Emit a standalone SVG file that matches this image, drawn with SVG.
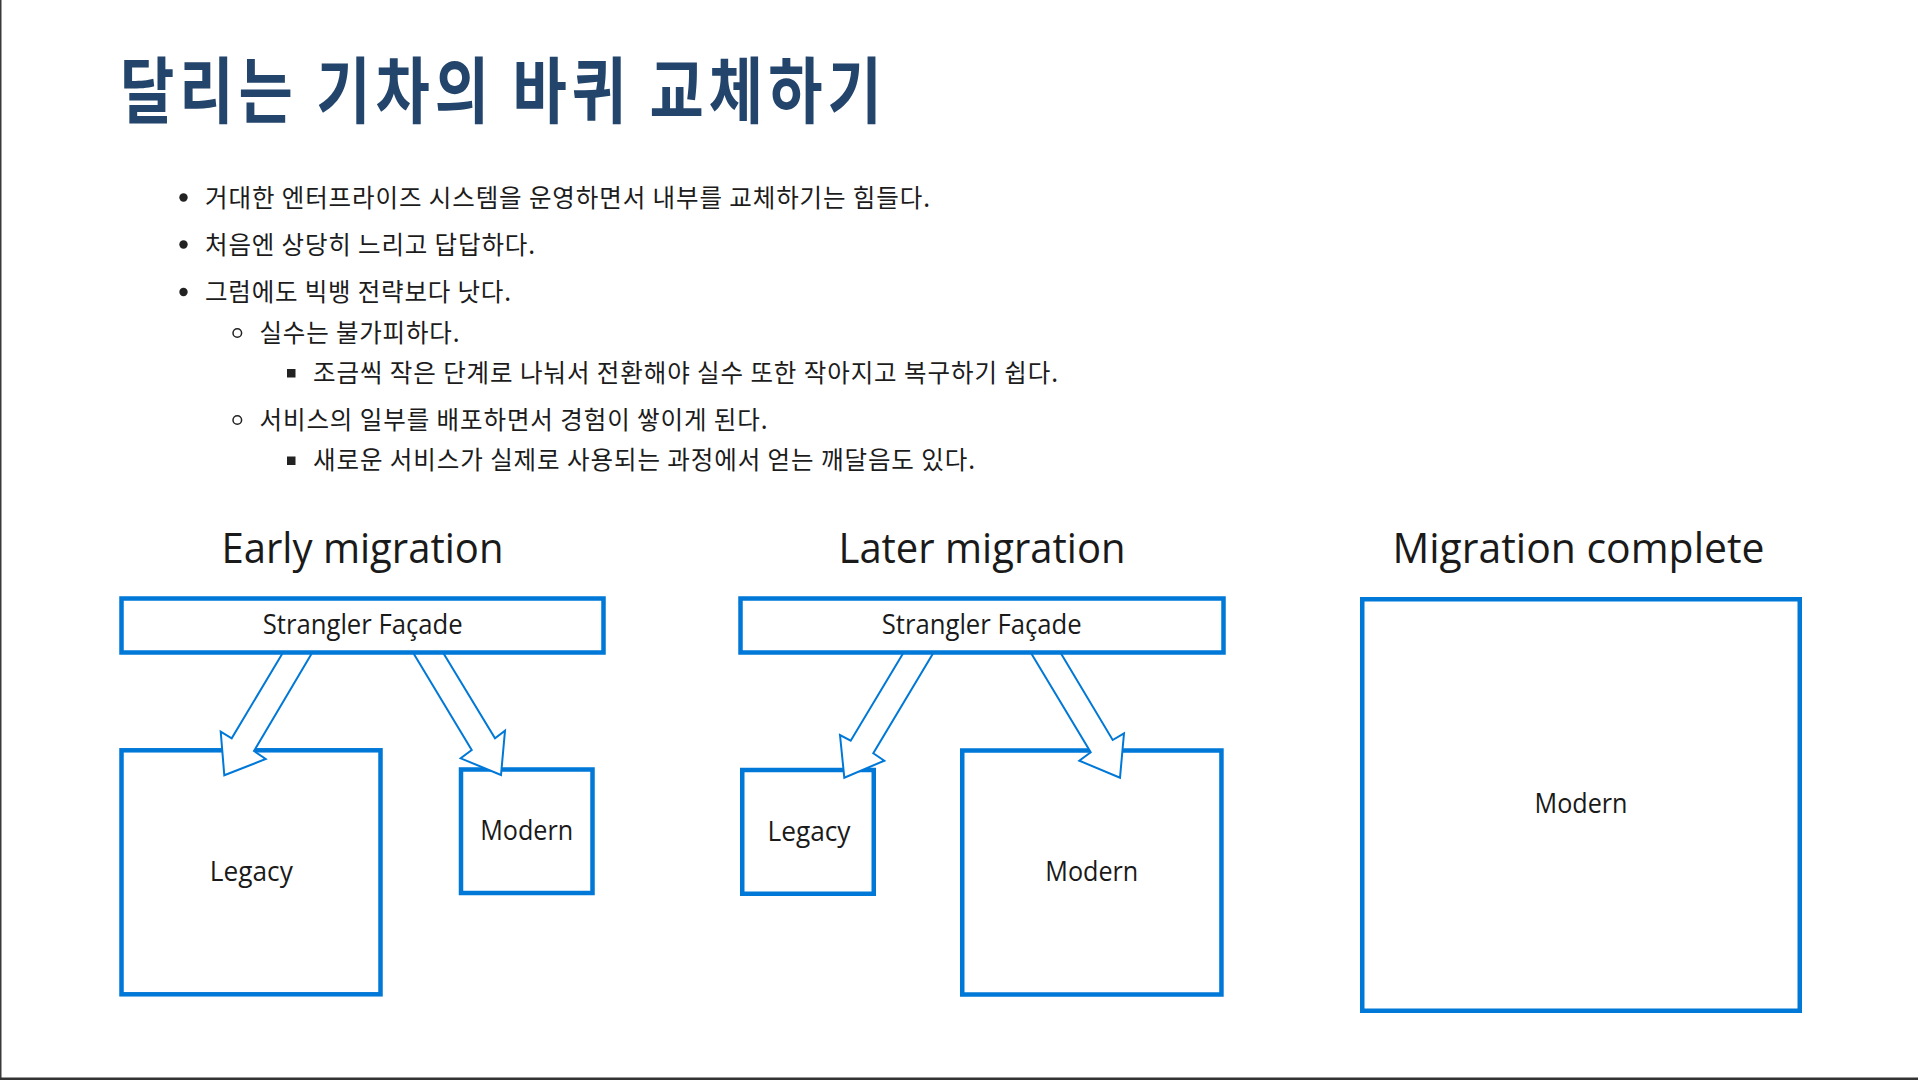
<svg xmlns="http://www.w3.org/2000/svg" width="1918" height="1080" viewBox="0 0 1918 1080">
  <style>
    .title { font-family: "Noto Sans CJK KR", "Noto Sans", sans-serif; font-weight: 700; font-size: 72px; fill: #23456b; }
    .body { font-family: "Noto Sans CJK KR", "Noto Sans", sans-serif; font-size: 24.5px; fill: #1c1c1c; }
    .heading { font-family: "Open Sans", "Noto Sans", sans-serif; font-size: 41.5px; fill: #1a1a1a; text-anchor: middle; }
    .label { font-family: "Open Sans", "Noto Sans", sans-serif; font-size: 26.5px; fill: #1a1a1a; text-anchor: middle; }
    .box { fill: #ffffff; stroke: #0078d7; stroke-width: 4.5; }
    .flow { fill: #ffffff; stroke: #0078d7; stroke-width: 2; stroke-linejoin: miter; }
    .dot { fill: #222222; }
    .ring { fill: none; stroke: #222222; stroke-width: 1.5; }
  </style>

  <rect x="0" y="0" width="1918" height="1080" fill="#ffffff"/>
  <!-- page frame edges -->
  <rect x="0" y="0" width="1.5" height="1080" fill="#3a3a3a"/>
  <rect x="0" y="1077.5" width="1918" height="2.5" fill="#333333"/>

  <!-- heading -->
  <text class="title" transform="scale(0.82 1)" x="146.3" y="117" textLength="929" lengthAdjust="spacing">달리는 기차의 바퀴 교체하기</text>

  <!-- bullet list -->
  <g id="bullets">
    <circle class="dot" cx="183.5" cy="197.5" r="4.2"/>
    <text class="body" x="205" y="206.5" textLength="725" lengthAdjust="spacing">거대한 엔터프라이즈 시스템을 운영하면서 내부를 교체하기는 힘들다.</text>
    <circle class="dot" cx="183.5" cy="244.5" r="4.2"/>
    <text class="body" x="205" y="253.5" textLength="330" lengthAdjust="spacing">처음엔 상당히 느리고 답답하다.</text>
    <circle class="dot" cx="183.5" cy="292" r="4.2"/>
    <text class="body" x="205" y="301" textLength="306" lengthAdjust="spacing">그럼에도 빅뱅 전략보다 낫다.</text>
    <circle class="ring" cx="237.3" cy="333" r="4.3"/>
    <text class="body" x="259.5" y="342" textLength="200" lengthAdjust="spacing">실수는 불가피하다.</text>
    <rect class="dot" x="287" y="369" width="8.5" height="8.5"/>
    <text class="body" x="313" y="382" textLength="745" lengthAdjust="spacing">조금씩 작은 단계로 나눠서 전환해야 실수 또한 작아지고 복구하기 쉽다.</text>
    <circle class="ring" cx="237.3" cy="420" r="4.3"/>
    <text class="body" x="259.5" y="429" textLength="508" lengthAdjust="spacing">서비스의 일부를 배포하면서 경험이 쌓이게 된다.</text>
    <rect class="dot" x="287" y="456.5" width="8.5" height="8.5"/>
    <text class="body" x="313" y="469" textLength="662" lengthAdjust="spacing">새로운 서비스가 실제로 사용되는 과정에서 얻는 깨달음도 있다.</text>
  </g>

  <!-- stage headings -->
  <text class="heading" x="362.5" y="562.7" textLength="282" lengthAdjust="spacingAndGlyphs">Early migration</text>
  <text class="heading" x="982" y="562.7" textLength="287" lengthAdjust="spacingAndGlyphs">Later migration</text>
  <text class="heading" x="1578.5" y="562.7" textLength="372" lengthAdjust="spacingAndGlyphs">Migration complete</text>

  <!-- back-end systems -->
  <g id="early-legacy">
    <rect class="box" x="121.5" y="750.3" width="259" height="244"/>
    <text class="label" x="251.3" y="880.7" textLength="83" lengthAdjust="spacingAndGlyphs">Legacy</text>
  </g>
  <g id="early-modern">
    <rect class="box" x="461" y="769.5" width="131.5" height="123.5"/>
    <text class="label" x="526.7" y="840" textLength="93" lengthAdjust="spacingAndGlyphs">Modern</text>
  </g>
  <g id="later-legacy">
    <rect class="box" x="742.25" y="770" width="131.5" height="123.75"/>
    <text class="label" x="809" y="840.7" textLength="83" lengthAdjust="spacingAndGlyphs">Legacy</text>
  </g>
  <g id="later-modern">
    <rect class="box" x="962.25" y="750.5" width="259.2" height="244"/>
    <text class="label" x="1091.8" y="880.7" textLength="93" lengthAdjust="spacingAndGlyphs">Modern</text>
  </g>
  <g id="complete-modern">
    <rect class="box" x="1362.25" y="599.25" width="437.5" height="411.5"/>
    <text class="label" x="1581" y="813" textLength="93" lengthAdjust="spacingAndGlyphs">Modern</text>
  </g>

  <!-- routing arrows from the façade -->
  <g id="connectors">
    <polygon class="flow" points="282.7,653 231.7,738.3 220.7,731.7 224.3,775.3 265.7,759 254,751 312,653"/>
    <polygon class="flow" points="413.3,653 471.7,750 460.7,758.3 501,775 505,730.7 495,738.3 443.3,653"/>
    <polygon class="flow" points="903.3,653 850.7,740.7 840,735 844.3,777.7 884.3,760.7 873.3,753.3 933.3,653"/>
    <polygon class="flow" points="1031,653 1090.7,752.3 1079.3,760.7 1120,777.7 1124,733.3 1112.7,740 1060.7,653"/>
  </g>

  <!-- façades -->
  <g id="early-facade">
    <rect class="box" x="121.5" y="598.5" width="482" height="54"/>
    <text class="label" x="362.7" y="634" textLength="200" lengthAdjust="spacingAndGlyphs">Strangler Façade</text>
  </g>
  <g id="later-facade">
    <rect class="box" x="740.5" y="598.5" width="483" height="54"/>
    <text class="label" x="981.7" y="634" textLength="200" lengthAdjust="spacingAndGlyphs">Strangler Façade</text>
  </g>
</svg>
